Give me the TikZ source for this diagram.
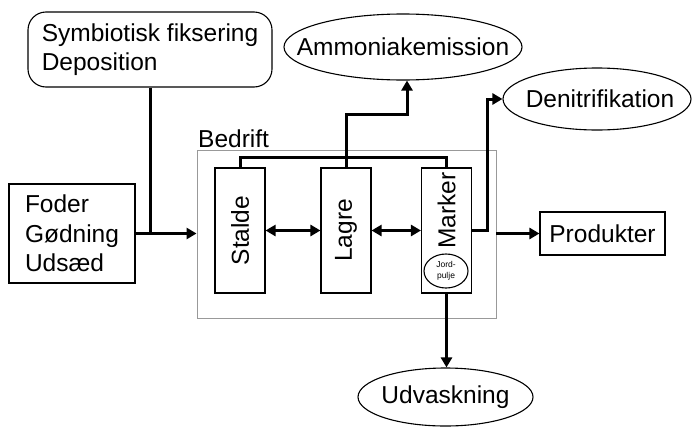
\documentclass[tikz,border=0pt]{standalone}
\usepackage{fontspec}
\setmainfont{Liberation Sans}
\usetikzlibrary{arrows.meta,shapes.geometric,positioning}
\begin{document}
\begin{tikzpicture}[x=1pt,y=-1pt,>={Triangle[length=10pt,width=11pt]}, font=\fontsize{24.5}{29.5}\selectfont, line join=miter]
	\def\tyk{3pt} \def\tynd{1.1pt} % stregtykkelser
	\tikzset{boks/.style={draw,line width=\tynd,inner sep=0pt},
		oval/.style={draw,ellipse,line width=\tynd,inner sep=0pt},
		pil/.style={line width=\tyk,->},
		stak/.style={boks,minimum width=50pt,minimum height=125pt}}
	\useasboundingbox (0,0) rectangle (692,426);
	% tilfoersel
	\node[boks,rounded corners=18pt,minimum width=244pt,minimum height=75pt,align=left] (symb) at (150,49.5) {Symbiotisk fiksering\\Deposition};
	\node[boks,minimum width=126pt,minimum height=99pt,align=left] (foder) at (72,233.5) {Foder\\Gødning\\Udsæd};
	% bedriften
	\node[draw=gray!80,line width=0.9pt,minimum width=299pt,minimum height=168pt] (bedrift) at (346.5,234) {};
	\node[anchor=base west,inner sep=0pt] (bedriftnavn) at (198,147.5) {Bedrift};
	\node[stak] (stalde) at (240,230.5) {\rotatebox{90}{Stalde}};
	\node[stak] (lagre) at (346,230.5) {\rotatebox{90}{Lagre}};
	\node[stak] (marker) at (446.5,230.5) {};
	\node[rotate=90,inner sep=0pt] (markertxt) at (446.5,210.5) {Marker};
	\node[oval,minimum width=44pt,minimum height=34pt,align=center,font=\fontsize{8.5}{10.5}\selectfont] (jord) at (446,271) {Jord-\\pulje};
	% tab og produkter
	\node[oval,minimum width=238pt,minimum height=66pt] (ammon) at (403,47) {};
	\node (ammontxt) at (ammon) {Ammoniakemission};
	\node[oval,minimum width=188pt,minimum height=62pt] (denit) at (597,99) {};
	\node (denittxt) at (600,99) {Denitrifikation};
	\node[oval,minimum width=175pt,minimum height=58pt] (udvask) at (445.5,397) {};
	\node (udvasktxt) at (udvask) {Udvaskning};
	\node[boks,minimum width=125pt,minimum height=43pt] (produkter) at (602.5,233.5) {Produkter};
	% pile
	\draw[pil] (foder.east) -- (foder.east -| bedrift.west);
	\draw[line width=\tyk] (symb.south) -- (symb.south |- foder.east);
	\draw[line width=\tyk] (stalde.north) -- ++(0,-10) -| (marker.north);
	\draw[pil] (lagre.north) -- ++(0,-53) -| ([xshift=4pt]ammon.south);
	\draw[pil,<->] (stalde.east) -- (lagre.west);
	\draw[pil,<->] (lagre.east) -- (marker.west);
	\draw[pil] (marker.east) -- ++(15,0) |- (denit.west);
	\draw[pil] (bedrift.east |- produkter.west) -- (produkter.west);
	\draw[pil] (marker.south) -- (marker.south |- udvask.north);
\end{tikzpicture}
\end{document}
